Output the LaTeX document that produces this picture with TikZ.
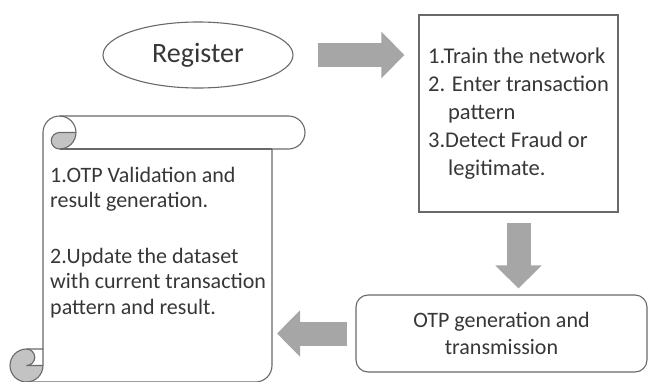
\documentclass[tikz,border=0pt]{standalone}
\usepackage{fontspec}
\setmainfont{Carlito}
\usepackage{xcolor}
\usepackage{tikz}
\usetikzlibrary{arrows.meta, positioning, shapes.geometric}
\definecolor{linegray}{RGB}{105,105,105}
\definecolor{textgray}{RGB}{55,55,55}
\definecolor{arrowgray}{RGB}{166,166,166}
\definecolor{curlgray}{RGB}{195,195,195}

\begin{document}
\begin{tikzpicture}[
    x=1pt, y=-1pt,
    regnode/.style={ellipse, draw=linegray, line width=1.1pt, fill=white, text=textgray, minimum width=190pt, minimum height=66pt, inner sep=0pt, font=\fontsize{28}{30}\selectfont},
    stepbox/.style={rectangle, draw=linegray, line width=1.1pt, fill=white, text=textgray, align=left, minimum width=199pt, minimum height=197pt, font=\fontsize{22.5}{28}\selectfont},
    otpbox/.style={rectangle, rounded corners=12pt, draw=linegray, line width=1.1pt, fill=white, text=textgray, align=center, minimum width=291pt, minimum height=77pt, font=\fontsize{22}{27}\selectfont},
    scrolltext/.style={align=left, inner sep=0pt, text=textgray, font=\fontsize{22}{25.5}\selectfont},
    scrollline/.style={draw=linegray, line width=1.1pt},
    fatarrow/.style={draw=arrowgray, line width=24pt, -{Triangle[width=45pt, length=23pt]}}
]
\useasboundingbox (0,0) rectangle (649,381);

\node[regnode] (reg) at (198,55) {Register};
\node[stepbox] (steps) at (518.5,113.5) {1.Train the network\\2. Enter transaction\\\hspace*{20pt}pattern\\3.Detect Fraud or\\\hspace*{20pt}legitimate.};
\node[otpbox] (otp) at (501.5,333.5) {OTP generation and\\transmission};

\fill[curlgray] (76,132.5) arc[start angle=0, end angle=90, radius=16.5] arc[start angle=90, end angle=270, radius=8.25] -- cycle;
\fill[curlgray] (43,365.5) arc[start angle=0, end angle=270, radius=16.5] arc[start angle=270, end angle=450, radius=8.25] -- cycle;
\draw[scrollline] (43,349) -- (43,132.5) arc[start angle=180, end angle=270, radius=16.5] -- (288.5,116) arc[start angle=270, end angle=450, radius=16.5] -- (272,149) -- (272,365.5) arc[start angle=0, end angle=90, radius=16.5] -- (26.5,382) arc[start angle=90, end angle=270, radius=16.5] -- cycle;
\draw[scrollline] (59.5,116) arc[start angle=270, end angle=450, radius=16.5] arc[start angle=90, end angle=270, radius=8.25] -- (76,132.5);
\draw[scrollline] (272,149) -- (59.5,149);
\draw[scrollline] (26.5,349) arc[start angle=270, end angle=450, radius=8.25] -- (43,365.5);
\draw[scrollline] (26.5,382) arc[start angle=90, end angle=0, radius=16.5] -- (43,349);
\coordinate (scrollR) at (272,333.5);

\node[scrolltext, anchor=west] (valid) at (50,242.5) {1.OTP Validation and\\result generation.\\[30pt]2.Update the dataset\\with current transaction\\pattern and result.};

\draw[fatarrow, shorten <=24pt, shorten >=14pt] (reg.east) -- (reg.east -| steps.west);
\draw[fatarrow, shorten <=10pt, shorten >=6pt] (steps.south) -- (steps.south |- otp.north);
\draw[fatarrow, shorten <=8pt, shorten >=5pt] (otp.west) -- (scrollR);
\end{tikzpicture}
\end{document}
